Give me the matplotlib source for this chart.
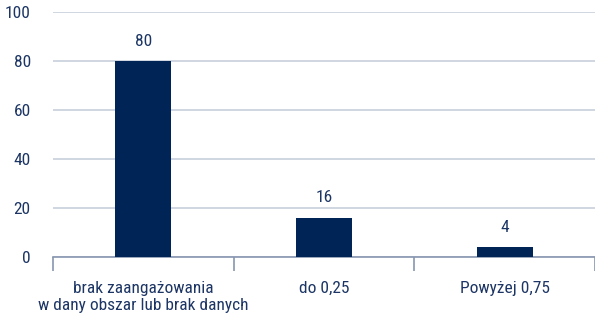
import matplotlib
matplotlib.use("Agg")
import matplotlib.pyplot as plt
from matplotlib import font_manager
from matplotlib.ticker import FixedLocator, NullFormatter

categories = ["brak zaangażowania\nw dany obszar lub brak danych", "do 0,25", "Powyżej 0,75"]
values = [80, 16, 4]
y_ticks = [0, 20, 40, 60, 80, 100]

BAR = "#002456"
TEXT = "#1c3564"
GRID = "#c8cfdb"
AXIS = "#8796b0"

# pick a narrow face if one is around, the reference uses a condensed font
names = {f.name for f in font_manager.fontManager.ttflist}
narrow = [n for n in ["Liberation Sans Narrow", "Roboto Condensed", "Open Sans Condensed"] if n in names]
plt.rcParams["font.family"] = narrow + ["DejaVu Sans"]
plt.rcParams["font.stretch"] = "condensed"
FS = 12.5

fig = plt.figure(figsize=(5.95, 3.23), dpi=100)
ax = fig.add_axes([53 / 595, 1 - 257 / 323, 542 / 595, 245 / 323])

x = list(range(len(categories)))
ax.bar(x, values, width=0.31, color=BAR, zorder=3)
for xi, v in zip(x, values):
    ax.annotate(str(v), (xi, v), xytext=(0, 9), textcoords="offset points",
                ha="center", va="bottom", color=TEXT, fontsize=FS)

ax.set_xlim(-0.5, 2.5)
ax.set_ylim(0, 100)
ax.set_yticks(y_ticks)
ax.set_yticklabels([str(t) for t in y_ticks], color=TEXT, fontsize=FS)
ax.tick_params(axis="y", length=0, pad=16)
ax.yaxis.grid(True, color=GRID, linewidth=1.2, zorder=0)

ax.xaxis.set_major_locator(FixedLocator([-0.5, 0.5, 1.5, 2.5]))
ax.xaxis.set_major_formatter(NullFormatter())
ax.tick_params(axis="x", which="major", length=10, width=1.2, color=AXIS)
ax.set_xticks(x, minor=True)
ax.set_xticklabels(categories, minor=True, color=TEXT, fontsize=FS, linespacing=1.2)
ax.tick_params(axis="x", which="minor", length=0, pad=17)

for s in ["top", "right", "left"]:
    ax.spines[s].set_visible(False)
ax.spines["bottom"].set_color(AXIS)
ax.spines["bottom"].set_linewidth(1.2)

fig.savefig("out.png", dpi=100)
